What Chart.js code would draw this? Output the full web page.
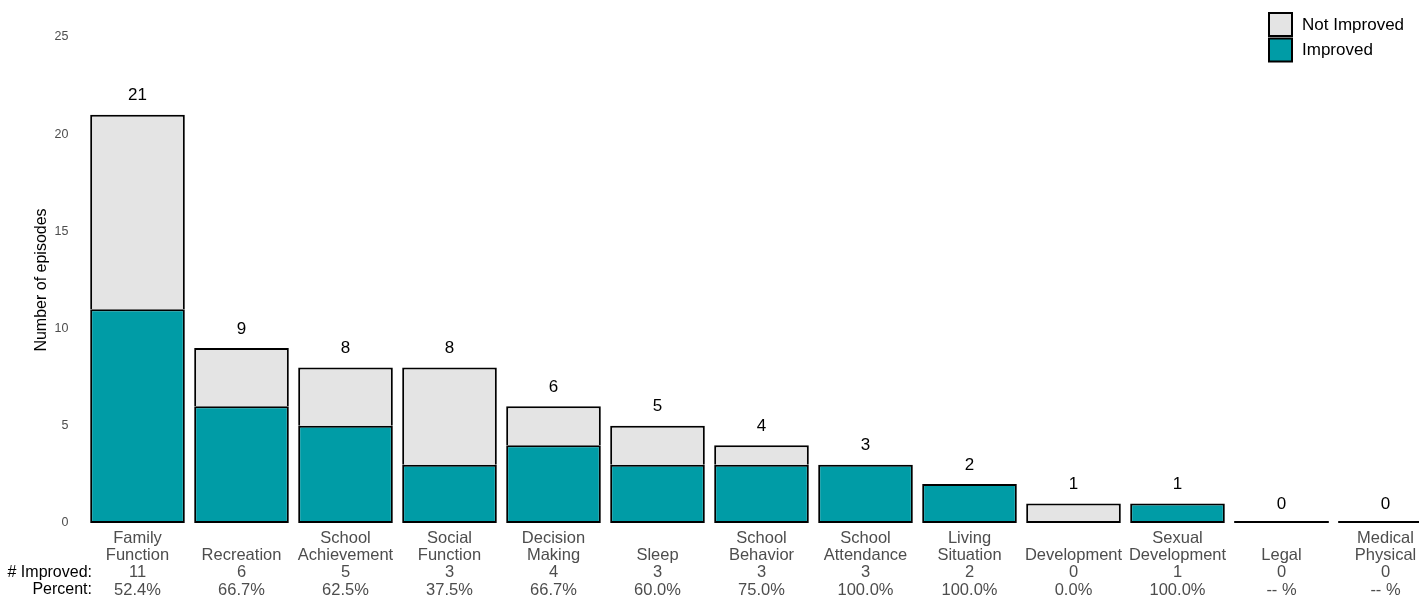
<!DOCTYPE html>
<html>
<head>
<meta charset="utf-8">
<script src="https://cdn.jsdelivr.net/npm/chart.js@4/dist/chart.umd.min.js"></script>
<style>
  html, body { margin: 0; padding: 0; background: #fff; overflow: hidden; }
  #wrap { position: relative; width: 1440px; height: 603px; }
</style>
</head>
<body>
<div id="wrap"><canvas id="episodesChart"></canvas></div>
<script>
// categories (name lines as shown under each bar)
const categories = [
    ['Family', 'Function'], ['', 'Recreation'], ['School', 'Achievement'], ['Social', 'Function'],
    ['Decision', 'Making'], ['', 'Sleep'], ['School', 'Behavior'], ['School', 'Attendance'],
    ['Living', 'Situation'], ['', 'Development'], ['Sexual', 'Development'], ['', 'Legal'],
    ['Medical', 'Physical']
];
const improved    = [11, 6, 5, 3, 4, 3, 3, 3, 2, 0, 1, 0, 0];
const notImproved = [10, 3, 3, 5, 2, 2, 1, 0, 0, 1, 0, 0, 0];
const yTicks = [0, 5, 10, 15, 20, 25];

const TEAL = '#009CA6';
const GREY = '#E4E4E4';
const FONT = 'Arial, "Liberation Sans", sans-serif';

const totals = improved.map((v, i) => v + notImproved[i]);
const percents = improved.map((v, i) => totals[i] ? (100 * v / totals[i]).toFixed(1) + '%' : '-- %');
const tickLabels = categories.map((c, i) => [c[0], c[1], String(improved[i]), percents[i]]);

// totals, zero-bar lines, row captions and legend
const extras = {
    id: 'extras',
    afterDatasetsDraw(chart) {
        const ctx = chart.ctx;
        const x = chart.scales.x, y = chart.scales.y;
        const meta = chart.getDatasetMeta(0);
        ctx.save();
        // zero-height bars drawn as a flat line
        ctx.strokeStyle = '#000';
        ctx.lineWidth = 2;
        totals.forEach((t, i) => {
            if (t === 0) {
                const bar = meta.data[i];
                const y0 = y.getPixelForValue(0) - 1;
                ctx.beginPath();
                ctx.moveTo(bar.x - bar.width / 2, y0);
                ctx.lineTo(bar.x + bar.width / 2, y0);
                ctx.stroke();
            }
        });
        // totals above bars
        ctx.fillStyle = '#000';
        ctx.font = '17px ' + FONT;
        ctx.textAlign = 'center';
        ctx.textBaseline = 'middle';
        totals.forEach((t, i) => {
            ctx.fillText(String(t), x.getPixelForValue(i), y.getPixelForValue(t) - 19);
        });
        // row captions
        ctx.font = '16px ' + FONT;
        ctx.textAlign = 'right';
        const b = chart.chartArea.bottom;
        ctx.fillText('# Improved:', 92, b + 49.5);
        ctx.fillText('Percent:', 92, b + 67);
        // legend
        ctx.font = '17px ' + FONT;
        const items = [['Not Improved', GREY], ['Improved', TEAL]];
        items.forEach((it, k) => {
            const top = 13 + k * 25.5;
            ctx.fillStyle = it[1];
            ctx.fillRect(1269, top, 23, 23);
            ctx.strokeStyle = '#000';
            ctx.lineWidth = 2;
            ctx.strokeRect(1269, top, 23, 23);
            ctx.fillStyle = '#000';
            ctx.textAlign = 'left';
            ctx.fillText(it[0], 1302, top + 12);
        });
        ctx.restore();
    }
};

const ctx = document.getElementById('episodesChart').getContext('2d');
const episodesChart = new Chart(ctx, {
    type: 'bar',
    data: {
        labels: tickLabels,
        datasets: [{
            label: 'Improved',
            data: improved,
            backgroundColor: TEAL,
            borderColor: '#000',
            borderWidth: 2,
            borderSkipped: false,
            categoryPercentage: 1,
            barPercentage: 0.91
        }, {
            label: 'Not Improved',
            data: notImproved,
            backgroundColor: GREY,
            borderColor: '#000',
            borderWidth: c => ({ top: 2, left: 2, right: 2, bottom: improved[c.dataIndex] > 0 ? 0 : 2 }),
            borderSkipped: false,
            categoryPercentage: 1,
            barPercentage: 0.91
        }]
    },
    options: {
        responsive: true,
        maintainAspectRatio: false,
        animation: false,
        layout: { padding: { top: 37, right: 2.5, left: 0, bottom: 0 } },
        plugins: {
            legend: { display: false },
            tooltip: { enabled: false }
        },
        scales: {
            x: {
                stacked: true,
                grid: { display: false, drawTicks: false },
                border: { display: false },
                ticks: {
                    color: '#4D4D4D',
                    font: { family: FONT, size: 16.5, lineHeight: 1.05 },
                    padding: 6.5,
                    maxRotation: 0,
                    autoSkip: false
                },
                afterFit: s => { s.height = 80; }
            },
            y: {
                stacked: true,
                min: 0,
                max: 25,
                grid: { display: false, drawTicks: false },
                border: { display: false },
                afterBuildTicks: s => { s.ticks = yTicks.map(v => ({ value: v })); },
                ticks: {
                    color: '#4D4D4D',
                    font: { family: FONT, size: 12.5 },
                    padding: 17
                },
                title: {
                    display: true,
                    text: 'Number of episodes',
                    color: '#000',
                    font: { family: FONT, size: 16 },
                    padding: { top: 32, bottom: 0 }
                },
                afterFit: s => { s.width = 85.5; }
            }
        }
    },
    plugins: [extras]
});
</script>
</body>
</html>
